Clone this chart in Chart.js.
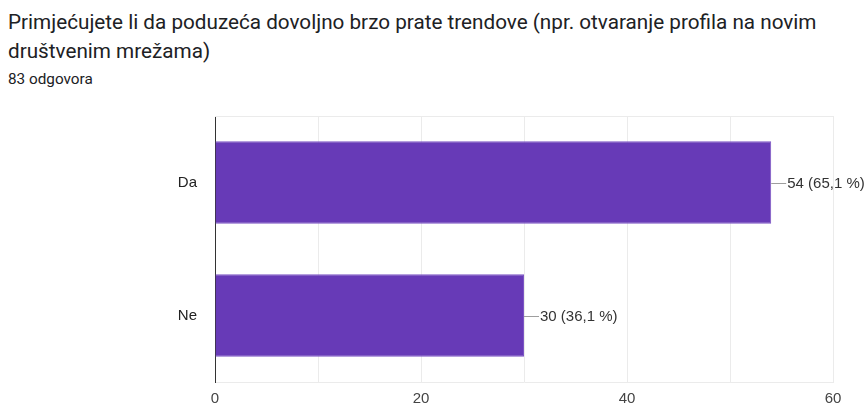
<!DOCTYPE html>
<html>
<head>
<meta charset="utf-8">
<script src="https://cdn.jsdelivr.net/npm/chart.js@4"></script>
<style>
  body { margin: 0; background: #fff; font-family: Roboto, sans-serif; }
  #wrap { position: relative; width: 867px; height: 406px; }
  #title { position: absolute; left: 8px; top: 8px; width: 850px; font-size: 20.7px; line-height: 29px; color: #202124; }
  #sub { position: absolute; left: 8px; top: 70px; font-size: 15.3px; color: #202124; }
  canvas { position: absolute; left: 0; top: 0; }
</style>
</head>
<body>
<div id="wrap">
  <div id="title">Primjećujete li da poduzeća dovoljno brzo prate trendove (npr. otvaranje profila na novim društvenim mrežama)</div>
  <div id="sub">83 odgovora</div>
  <canvas id="c" width="867" height="406"></canvas>
</div>
<script>
const categories = ['Da', 'Ne']
const counts = [54, 30]
const percentLabels = ['65,1 %', '36,1 %']

const chartFont = 'Arial, "Liberation Sans", sans-serif'

// value labels with a short grey leader line, Google Forms style
const valueLabels = {
  id: 'valueLabels',
  afterDatasetsDraw(chart) {
    const ctx = chart.ctx
    chart.getDatasetMeta(0).data.forEach((bar, i) => {
      ctx.save()
      ctx.strokeStyle = '#9e9e9e'
      ctx.lineWidth = 1
      ctx.beginPath()
      ctx.moveTo(bar.x, Math.round(bar.y) + 0.5)
      ctx.lineTo(bar.x + 15, Math.round(bar.y) + 0.5)
      ctx.stroke()
      ctx.fillStyle = '#333'
      ctx.font = '15px ' + chartFont
      ctx.textBaseline = 'middle'
      ctx.fillText(counts[i] + ' (' + percentLabels[i] + ')', bar.x + 16, bar.y + 1)
      ctx.restore()
    })
  }
}

const topLine = {
  id: 'topLine',
  beforeDatasetsDraw(chart) {
    const { ctx, chartArea } = chart
    ctx.save()
    ctx.strokeStyle = '#ebebeb'
    ctx.lineWidth = 1
    ctx.beginPath()
    ctx.moveTo(chartArea.left, chartArea.top + 0.5)
    ctx.lineTo(chartArea.right, chartArea.top + 0.5)
    ctx.stroke()
    ctx.restore()
  }
}

new Chart(document.getElementById('c'), {
  type: 'bar',
  data: {
    labels: categories,
    datasets: [{
      data: counts,
      backgroundColor: '#673ab7',
      borderColor: '#7c55c4',
      borderWidth: 1,
      barPercentage: 0.62,
      categoryPercentage: 1.0,
    }],
  },
  options: {
    indexAxis: 'y',
    responsive: false,
    animation: false,
    layout: { padding: { left: 0, right: 34, top: 116, bottom: 0 } },
    plugins: { legend: { display: false }, tooltip: { enabled: false } },
    scales: {
      x: {
        min: 0,
        max: 60,
        ticks: {
          stepSize: 10,
          color: '#444',
          font: { family: chartFont, size: 15 },
          padding: 8,
          callback: (v) => (v % 20 === 0 ? v : ''),
        },
        grid: { color: '#ebebeb', drawTicks: false },
        border: { color: '#ebebeb' },
        afterFit: (s) => { s.height = 24 },
      },
      y: {
        ticks: { color: '#222', font: { family: chartFont, size: 15 }, padding: 10 },
        grid: { display: false },
        border: { color: '#333', width: 1 },
        afterFit: (s) => { s.width = 215 },
      },
    },
  },
  plugins: [topLine, valueLabels],
})
</script>
</body>
</html>
